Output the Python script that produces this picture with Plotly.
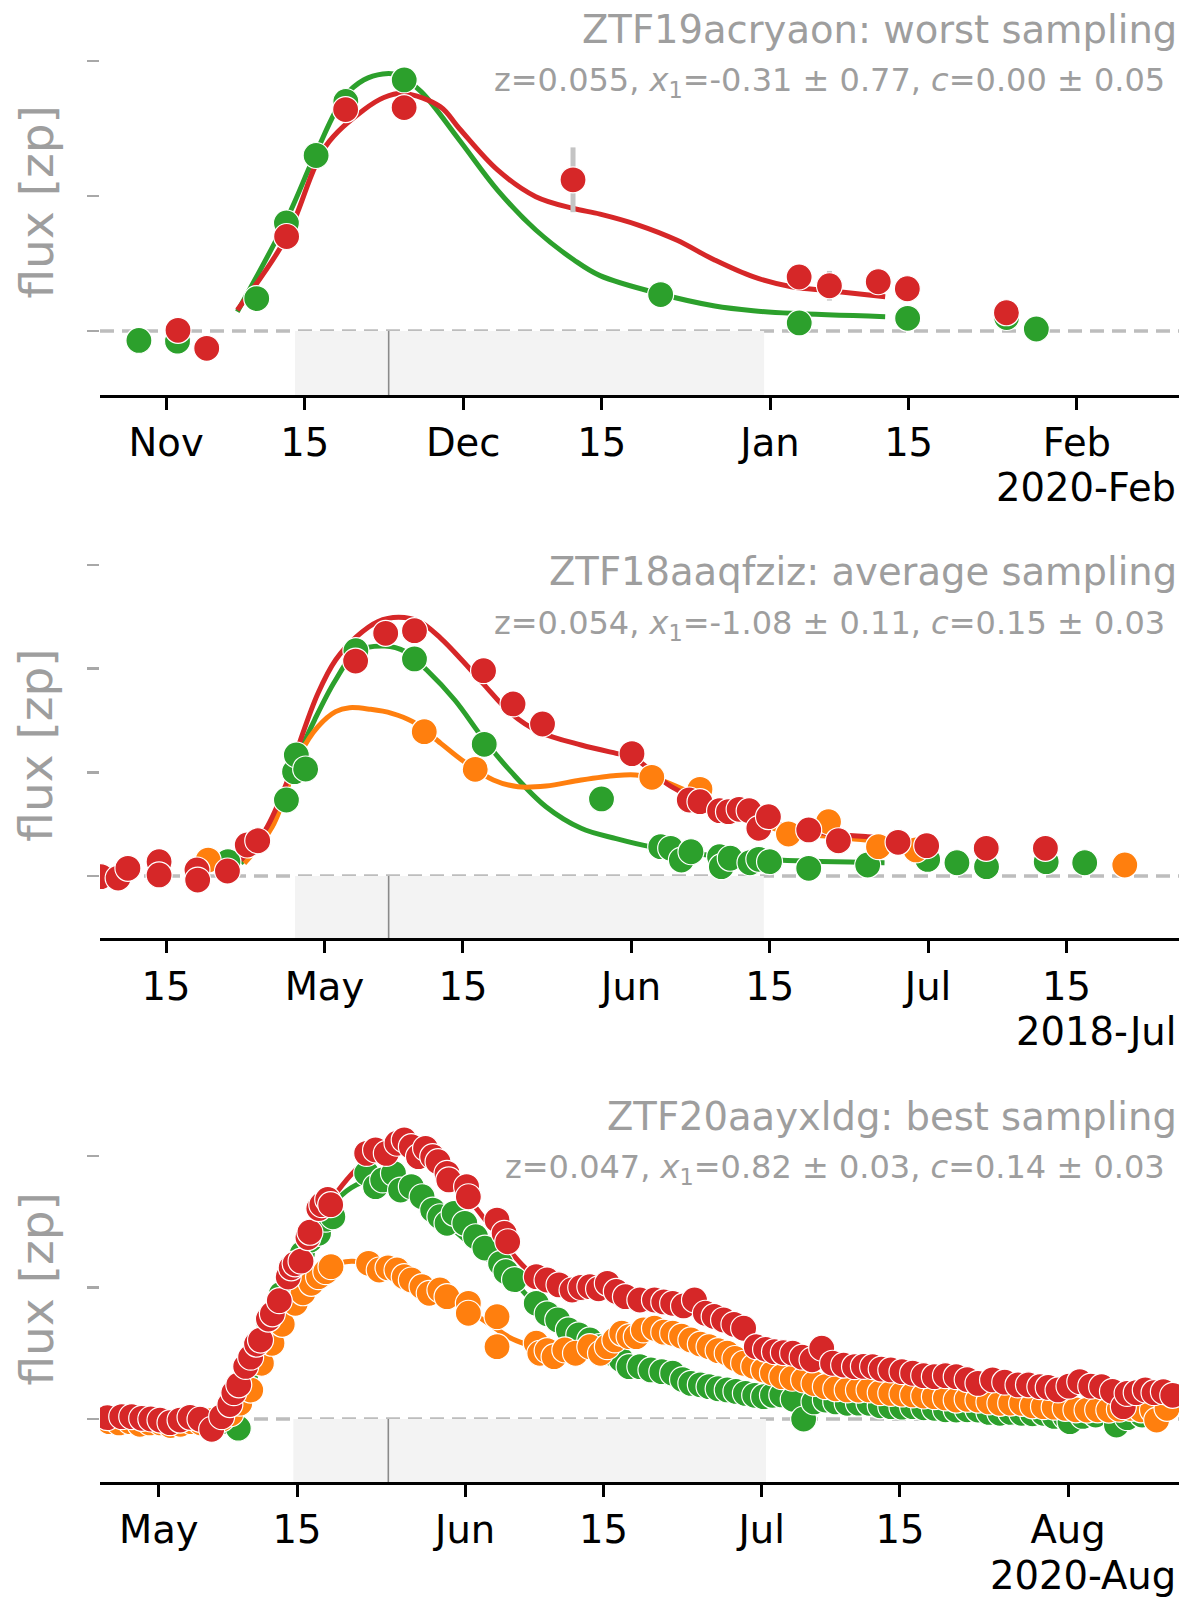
import numpy as np
import pandas as pd
import plotly.graph_objects as go

# ---------------- DATA ----------------
# Panel 1: ZTF19acryaon (days since 2019-11-01)
p1_t0 = "2019-11-01"
p1_title = "ZTF19acryaon: worst sampling"
p1_sub = "z=0.055, <i>x</i><sub>1</sub>=-0.31 ± 0.77, <i>c</i>=0.00 ± 0.05"
p1_offset = "2020-Feb"
p1_xrange = [-6.68, 102.31]
p1_shade = [13.02, 60.4]
p1_tmax = 22.48
p1_tickdates = ["2019-11-01", "2019-11-15", "2019-12-01", "2019-12-15", "2020-01-01", "2020-01-15", "2020-02-01"]
p1_ticklabels = ["Nov", "15", "Dec", "15", "Jan", "15", "Feb"]
p1_yticks = [0, 1, 2]

p1_g_days = [-2.75, 1.15, 9.15, 12.15, 15.15, 18.15, 24.05, 49.95, 63.95, 74.9, 84.9, 87.9]
p1_g_flux = [-0.07, -0.075, 0.24, 0.80, 1.30, 1.70, 1.86, 0.27, 0.06, 0.094, 0.10, 0.015]
p1_g_err = [0.03, 0.03, 0.05, 0.04, 0.04, 0.04, 0.04, 0.04, 0.03, 0.03, 0.03, 0.03]
p1_r_days = [1.2, 4.1, 12.17, 18.13, 24.04, 41.1, 63.94, 67.0, 71.93, 74.87, 84.88]
p1_r_flux = [0.005, -0.128, 0.70, 1.64, 1.655, 1.12, 0.40, 0.335, 0.365, 0.313, 0.135]
p1_r_err = [0.04, 0.04, 0.04, 0.05, 0.05, 0.24, 0.05, 0.11, 0.05, 0.05, 0.05]

p1_gmod_days = [7.19, 12.14, 15.11, 18.01, 19.95, 21.88, 23.43, 25.75, 29.61, 33.47, 37.34, 41.2, 43.83, 49.94, 55.42, 59.3, 63.16, 72.63]
p1_gmod_flux = [0.143, 0.822, 1.316, 1.736, 1.859, 1.904, 1.896, 1.773, 1.415, 1.044, 0.748, 0.526, 0.41, 0.274, 0.185, 0.15, 0.131, 0.106]
p1_rmod_days = [7.19, 12.17, 16.08, 19.95, 22.0, 24.0, 27.68, 29.61, 33.47, 37.34, 41.09, 43.83, 47.7, 51.56, 55.4, 59.28, 63.16, 67.02, 72.63]
p1_rmod_flux = [0.156, 0.696, 1.365, 1.637, 1.73, 1.76, 1.662, 1.5, 1.193, 0.995, 0.909, 0.866, 0.785, 0.674, 0.526, 0.402, 0.328, 0.299, 0.254]

# Panel 2: ZTF18aaqfziz (days since 2018-04-15)
p2_t0 = "2018-04-15"
p2_title = "ZTF18aaqfziz: average sampling"
p2_sub = "z=0.054, <i>x</i><sub>1</sub>=-1.08 ± 0.11, <i>c</i>=0.15 ± 0.03"
p2_offset = "2018-Jul"
p2_xrange = [-6.68, 102.36]
p2_shade = [13.03, 60.4]
p2_tmax = 22.49
p2_tickdates = ["2018-04-15", "2018-05-01", "2018-05-15", "2018-06-01", "2018-06-15", "2018-07-01", "2018-07-15"]
p2_ticklabels = ["15", "May", "15", "Jun", "15", "Jul", "15"]
p2_yticks = [0, 1, 2, 3]

p2_r_days = [-6.6, -4.85, -3.86, -0.71, -0.71, 3.12, 3.19, 6.2, 8.2, 9.26, 19.15, 22.19, 25.1, 32.08, 35.06, 38.04,
             47.08, 52.87, 53.95, 55.93, 56.83, 57.91, 58.92, 59.9, 60.87, 64.94, 67.94, 73.97, 76.86, 82.88, 88.86]
p2_r_flux = [-0.006, -0.02, 0.074, 0.138, 0.01, 0.058, -0.039, 0.048, 0.299, 0.34, 2.073, 2.34, 2.366, 1.98, 1.659, 1.466,
             1.18, 0.733, 0.717, 0.63, 0.62, 0.643, 0.63, 0.46, 0.572, 0.444, 0.34, 0.325, 0.292, 0.267, 0.267]
p2_g_days = [6.25, 12.16, 12.98, 13.16, 14.1, 19.18, 25.1, 32.15, 44.0, 49.98, 50.99, 52.07, 53.04, 55.93, 56.11, 57.01,
             59.0, 59.9, 60.98, 64.94, 70.9, 76.96, 79.92, 82.91, 88.94, 92.83]
p2_g_flux = [0.138, 0.733, 1.006, 1.167, 1.032, 2.173, 2.093, 1.27, 0.743, 0.283, 0.267, 0.154, 0.234, 0.186, 0.09, 0.171,
             0.128, 0.161, 0.138, 0.074, 0.106, 0.16, 0.128, 0.09, 0.138, 0.128]
p2_i_days = [4.25, 26.09, 31.24, 49.08, 53.95, 62.89, 66.94, 71.99, 75.78, 96.88]
p2_i_flux = [0.154, 1.392, 1.029, 0.952, 0.836, 0.405, 0.524, 0.283, 0.251, 0.106]

p2_rmod_days = [7.55, 10.03, 12.16, 13.58, 15.35, 17.13, 19.25, 21.38, 23.5, 25.63, 27.76, 29.88, 32.01, 34.85, 37.68,
                41.94, 45.48, 47.09, 51.06, 54.67, 60.09, 65.49, 70.9, 72.6]
p2_rmod_flux = [0.154, 0.444, 0.894, 1.311, 1.762, 2.083, 2.308, 2.452, 2.494, 2.452, 2.292, 2.083, 1.858, 1.569, 1.392,
                1.263, 1.183, 1.15, 0.861, 0.701, 0.54, 0.427, 0.379, 0.373]
p2_gmod_days = [7.55, 10.74, 12.87, 15.0, 17.13, 19.25, 22.09, 24.21, 26.34, 29.17, 32.15, 34.85, 38.39, 41.94, 45.48,
                48.9, 54.67, 61.9, 72.6]
p2_gmod_flux = [0.122, 0.54, 1.054, 1.504, 1.89, 2.163, 2.218, 2.163, 1.986, 1.697, 1.311, 1.006, 0.668, 0.46, 0.36,
                0.283, 0.203, 0.154, 0.128]
p2_imod_days = [7.91, 10.74, 13.58, 15.35, 17.13, 18.54, 20.67, 22.8, 24.92, 27.76, 29.88, 33.07, 35.56, 38.39, 41.94,
                45.48, 47.45, 49.08, 52.87, 58.28, 61.9, 67.3, 72.6]
p2_imod_flux = [0.122, 0.476, 1.183, 1.44, 1.585, 1.623, 1.607, 1.569, 1.488, 1.279, 1.119, 0.926, 0.861, 0.868, 0.926,
                0.97, 0.975, 0.952, 0.813, 0.588, 0.444, 0.379, 0.331]

# Panel 3: ZTF20aayxldg (days since 2020-05-01)
p3_t0 = "2020-05-01"
p3_title = "ZTF20aayxldg: best sampling"
p3_sub = "z=0.047, <i>x</i><sub>1</sub>=0.82 ± 0.03, <i>c</i>=0.14 ± 0.03"
p3_offset = "2020-Aug"
p3_xrange = [-5.94, 103.23]
p3_shade = [13.62, 61.44]
p3_tmax = 23.23
p3_tickdates = ["2020-05-01", "2020-05-15", "2020-06-01", "2020-06-15", "2020-07-01", "2020-07-15", "2020-08-01"]
p3_ticklabels = ["May", "15", "Jun", "15", "Jul", "15", "Aug"]
p3_yticks = [0, 1, 2]

p3_r_days = [-5.2, -3.74, -2.73, -1.72, -0.8, 0.13, 1.14, 2.16, 3.17, 4.18, 5.36, 6.37, 7.2, 7.6, 8.1, 8.8, 9.3, 9.9,
             10.3, 11.1, 11.5, 12.2, 13.1, 13.4, 13.8, 14.4, 15.1, 15.3, 16.2, 16.5, 17.1, 17.4,
             21.04, 21.94, 23.03, 24.11, 24.84, 25.56, 26.28, 27.0, 27.72, 28.26, 29.17, 29.35, 31.15, 31.33, 34.23,
             34.95, 35.31, 38.2, 39.29, 40.5, 41.82, 42.7, 43.62, 44.5, 45.39, 46.3, 47.22, 48.68, 50.16, 51.1, 52.0,
             53.1, 54.21, 55.31, 56.2, 57.15, 58.2, 59.18, 60.46, 61.4, 62.3, 63.2, 64.14, 65.1, 66.1, 67.08, 68.18,
             69.3, 70.4, 71.3, 72.23, 73.1, 74.07, 75.2, 76.28, 77.4, 78.48, 79.6, 80.69, 81.8, 82.89, 84.37, 85.6,
             86.94, 88.0, 89.15, 90.0, 90.99, 92.1, 93.19, 94.3, 95.4, 96.5, 97.6, 97.98, 98.9, 99.82, 100.7, 101.65,
             102.6]
p3_r_flux = [0.01, 0.018, 0.018, 0.005, 0.0, -0.008, -0.028, -0.008, 0.013, -0.002, -0.078, 0.018, 0.11, 0.2, 0.26,
             0.40, 0.47, 0.57, 0.6, 0.76, 0.8, 0.9, 1.08, 1.15, 1.18, 1.2, 1.38, 1.42, 1.6, 1.63, 1.67, 1.63,
             2.02, 2.046, 2.02, 2.097, 2.122, 2.071, 1.995, 2.058, 1.995, 1.957, 1.868, 1.818, 1.767, 1.69, 1.513,
             1.412, 1.348, 1.082, 1.057, 1.02, 0.981, 1.0, 1.006, 0.99, 1.032, 0.97, 0.93, 0.905, 0.905, 0.89, 0.88,
             0.86, 0.905, 0.804, 0.78, 0.753, 0.72, 0.69, 0.55, 0.53, 0.512, 0.505, 0.5, 0.47, 0.45, 0.538, 0.424,
             0.41, 0.398, 0.40, 0.398, 0.38, 0.373, 0.36, 0.348, 0.33, 0.322, 0.33, 0.322, 0.30, 0.271, 0.297, 0.28,
             0.259, 0.26, 0.246, 0.24, 0.221, 0.25, 0.284, 0.25, 0.246, 0.21, 0.094, 0.195, 0.2, 0.221, 0.2, 0.208,
             0.18]
p3_g_days = [-4.9, -3.0, -1.0, 0.1, 2.2, 3.2, 5.3, 6.4, 8.05, 8.8, 9.9, 11.1, 12.4, 13.3, 14.54, 15.3, 16.17, 16.9,
             17.62, 21.04, 21.94, 22.66, 23.75, 24.47, 25.56, 26.65, 27.72, 28.45, 29.17, 29.89, 30.97, 32.06, 33.0,
             34.59, 35.13, 36.0, 38.2, 39.3, 40.37, 41.45, 42.5, 43.62, 44.6, 45.78, 46.8, 47.59, 48.68, 49.8, 50.9,
             52.0, 53.0, 53.84, 54.8, 55.68, 56.6, 57.52, 58.4, 59.36, 60.3, 61.2, 62.1, 63.04, 64.2, 65.25, 66.3,
             67.45, 68.5, 69.66, 70.8, 71.87, 73.0, 74.07, 75.2, 76.28, 77.4, 78.48, 79.6, 80.69, 81.8, 82.89, 84.0,
             85.11, 86.2, 87.31, 88.4, 89.52, 90.6, 91.72, 92.2, 93.5, 94.8, 96.9, 98.0, 99.5, 101.0]
p3_g_flux = [-0.02, -0.01, -0.03, -0.02, -0.01, 0.0, -0.03, -0.02, -0.07, 0.30, 0.52, 0.74, 0.95, 1.08, 1.26, 1.36,
             1.412, 1.52, 1.538, 1.868, 1.767, 1.818, 1.868, 1.741, 1.767, 1.69, 1.589, 1.538, 1.488, 1.564, 1.488,
             1.386, 1.30, 1.184, 1.12, 1.06, 0.88, 0.80, 0.753, 0.677, 0.64, 0.601, 0.55, 0.5, 0.45, 0.398, 0.398,
             0.373, 0.36, 0.348, 0.30, 0.271, 0.26, 0.246, 0.23, 0.221, 0.21, 0.195, 0.18, 0.17, 0.18, 0.183, 0.15,
             0.0, 0.13, 0.144, 0.13, 0.119, 0.12, 0.119, 0.10, 0.094, 0.09, 0.094, 0.085, 0.081, 0.07, 0.068, 0.07,
             0.068, 0.05, 0.043, 0.05, 0.043, 0.04, 0.043, 0.02, 0.017, -0.02, 0.02, 0.03, -0.046, 0.01, 0.03, 0.02]
p3_i_days = [-5.0, -4.0, -2.9, -1.9, -0.9, 0.2, 1.2, 2.2, 3.3, 4.3, 5.4, 6.4, 7.3, 8.2, 9.31, 10.39, 11.46, 12.5,
             13.82, 14.6, 15.44, 16.17, 16.9, 17.43, 21.23, 22.31, 23.2, 24.11, 24.84, 25.56, 26.64, 27.37, 28.45,
             29.17, 31.33, 31.33, 34.23, 34.23, 38.2, 38.56, 39.3, 40.0, 41.09, 42.17, 43.62, 44.7, 45.39, 46.15,
             46.85, 47.59, 48.32, 49.04, 50.16, 51.1, 52.0, 52.9, 53.84, 54.8, 55.68, 56.6, 57.52, 58.3, 59.18, 60.2,
             61.2, 62.1, 63.04, 64.1, 65.25, 66.3, 67.45, 68.5, 69.66, 70.8, 71.87, 73.0, 74.07, 75.2, 76.28, 77.4,
             78.48, 79.6, 80.69, 81.8, 82.89, 84.0, 85.11, 86.2, 87.31, 88.4, 89.52, 90.6, 91.72, 92.8, 93.93, 95.0,
             96.13, 97.2, 98.34, 99.4, 100.55, 100.97, 102.02]
p3_i_flux = [-0.02, -0.03, -0.02, -0.04, -0.03, -0.03, -0.05, -0.04, -0.02, -0.03, -0.01, 0.0, 0.04, 0.12, 0.22,
             0.424, 0.576, 0.72, 0.88, 0.96, 1.032, 1.082, 1.12, 1.158, 1.184, 1.133, 1.15, 1.133, 1.082, 1.057,
             1.006, 0.956, 0.981, 0.93, 0.88, 0.804, 0.778, 0.55, 0.576, 0.5, 0.52, 0.474, 0.525, 0.5, 0.55, 0.5,
             0.55, 0.601, 0.652, 0.626, 0.626, 0.677, 0.69, 0.66, 0.652, 0.63, 0.601, 0.57, 0.55, 0.52, 0.5, 0.46,
             0.424, 0.40, 0.373, 0.35, 0.322, 0.31, 0.297, 0.27, 0.246, 0.23, 0.221, 0.22, 0.221, 0.20, 0.195, 0.19,
             0.183, 0.175, 0.17, 0.16, 0.144, 0.15, 0.144, 0.13, 0.119, 0.12, 0.119, 0.10, 0.094, 0.09, 0.081, 0.07,
             0.068, 0.07, 0.068, 0.075, 0.081, 0.07, 0.068, -0.008, 0.081]

p3_rmod_days = [7.9, 9.3, 11.5, 13.1, 15.3, 17.4, 19.5, 21.5, 23.5, 25.5, 27.5, 29.5, 31.5, 33.5, 35.5, 37.5, 39.5,
                42.0, 45.0, 48.0, 51.0, 54.0, 57.0, 60.0, 63.0, 66.0, 70.0, 73.4]
p3_rmod_flux = [0.15, 0.45, 0.76, 1.1, 1.42, 1.66, 1.86, 2.0, 2.07, 2.06, 1.98, 1.83, 1.66, 1.47, 1.28, 1.12, 1.03,
                0.99, 0.97, 0.93, 0.89, 0.86, 0.76, 0.6, 0.5, 0.45, 0.41, 0.38]
p3_gmod_days = [7.9, 9.3, 11.5, 13.1, 15.3, 17.4, 19.5, 21.5, 23.5, 25.5, 27.5, 29.5, 31.5, 33.5, 35.5, 37.5, 39.5,
                42.0, 45.0, 48.0, 51.0, 54.0, 57.0, 60.0, 65.0, 70.0, 73.4]
p3_gmod_flux = [0.15, 0.45, 0.8, 1.12, 1.42, 1.62, 1.76, 1.82, 1.8, 1.73, 1.6, 1.46, 1.33, 1.2, 1.08, 0.92, 0.78,
                0.64, 0.47, 0.4, 0.36, 0.28, 0.22, 0.18, 0.13, 0.11, 0.1]
p3_imod_days = [7.9, 9.3, 11.5, 13.1, 15.3, 17.4, 19.5, 21.5, 23.5, 25.5, 27.5, 29.5, 31.5, 33.5, 35.5, 37.5, 40.0,
                42.0, 44.0, 46.0, 48.0, 50.0, 52.0, 54.0, 56.0, 58.0, 60.0, 63.0, 66.0, 70.0, 73.4]
p3_imod_flux = [0.1, 0.25, 0.58, 0.82, 1.03, 1.16, 1.2, 1.18, 1.14, 1.06, 0.97, 0.92, 0.82, 0.72, 0.62, 0.56, 0.5,
                0.53, 0.56, 0.62, 0.66, 0.68, 0.65, 0.6, 0.54, 0.47, 0.4, 0.32, 0.27, 0.22, 0.2]

# ---------------- STYLE / LAYOUT ----------------
GREEN, ORANGE, RED = "#2ca02c", "#ff7f0e", "#d62728"
GREY_TXT = "#9e9e9e"
FONT = "DejaVu Sans"
W, H = 1200, 1606
ML, MR, MT, MB = 100, 21, 10, 124
PH = H - MT - MB  # plot area height in px
PW = W - ML - MR

# pixel geometry of each panel: (top px, bottom px, zero px, px per unit)
geom = [(10, 395, 331, 135.0), (553, 938.4, 876, 103.7), (1097, 1482, 1419, 131.5)]


def py2paper(py):
    return (H - MB - py) / PH


def to_dt(t0, days):
    return pd.Timestamp(t0) + pd.to_timedelta(np.asarray(days, dtype=float), unit="D")


panels = [
    dict(t0=p1_t0, title=p1_title, sub=p1_sub, offset=p1_offset, xr=p1_xrange, shade=p1_shade, tmax=p1_tmax,
         tickdates=p1_tickdates, ticklabels=p1_ticklabels, yticks=p1_yticks,
         models=[(p1_gmod_days, p1_gmod_flux, GREEN), (p1_rmod_days, p1_rmod_flux, RED)],
         obs=[(p1_g_days, p1_g_flux, p1_g_err, GREEN), (p1_r_days, p1_r_flux, p1_r_err, RED)]),
    dict(t0=p2_t0, title=p2_title, sub=p2_sub, offset=p2_offset, xr=p2_xrange, shade=p2_shade, tmax=p2_tmax,
         tickdates=p2_tickdates, ticklabels=p2_ticklabels, yticks=p2_yticks,
         models=[(p2_gmod_days, p2_gmod_flux, GREEN), (p2_imod_days, p2_imod_flux, ORANGE),
                 (p2_rmod_days, p2_rmod_flux, RED)],
         obs=[(p2_g_days, p2_g_flux, None, GREEN), (p2_i_days, p2_i_flux, None, ORANGE),
              (p2_r_days, p2_r_flux, None, RED)]),
    dict(t0=p3_t0, title=p3_title, sub=p3_sub, offset=p3_offset, xr=p3_xrange, shade=p3_shade, tmax=p3_tmax,
         tickdates=p3_tickdates, ticklabels=p3_ticklabels, yticks=p3_yticks,
         models=[(p3_gmod_days, p3_gmod_flux, GREEN), (p3_imod_days, p3_imod_flux, ORANGE),
                 (p3_rmod_days, p3_rmod_flux, RED)],
         obs=[(p3_g_days, p3_g_flux, None, GREEN), (p3_i_days, p3_i_flux, None, ORANGE),
              (p3_r_days, p3_r_flux, None, RED)]),
]

fig = go.Figure()
layout = dict(width=W, height=H, margin=dict(l=ML, r=MR, t=MT, b=MB, pad=0), paper_bgcolor="white",
              plot_bgcolor="white", showlegend=False, font=dict(family=FONT))
shapes, annotations = [], []

for i, p in enumerate(panels):
    k = "" if i == 0 else str(i + 1)
    xa, ya = "x" + k, "y" + k
    top, bot, zero, unit = geom[i]
    ylo, yhi = (zero - bot) / unit, (zero - top) / unit

    for d, f, c in p["models"]:
        fig.add_trace(go.Scatter(x=to_dt(p["t0"], d), y=f, mode="lines",
                                 line=dict(color=c, width=5, shape="spline", smoothing=1.0),
                                 xaxis=xa, yaxis=ya, hoverinfo="skip"))
    for d, f, e, c in p["obs"]:
        kw = {}
        if e is not None:
            kw["error_y"] = dict(type="data", array=e, visible=True, color="#c4c4c4", thickness=5, width=0)
        fig.add_trace(go.Scatter(x=to_dt(p["t0"], d), y=f, mode="markers",
                                 marker=dict(color=c, size=26, line=dict(color="white", width=1.2)),
                                 xaxis=xa, yaxis=ya, **kw))

    xr = [str(t) for t in to_dt(p["t0"], p["xr"])]
    sh = [str(t) for t in to_dt(p["t0"], p["shade"])]
    tm = str(to_dt(p["t0"], [p["tmax"]])[0])

    dom_lo, dom_hi = py2paper(bot), py2paper(top)
    layout["xaxis" + k] = dict(anchor=ya, domain=[0, 1], type="date", range=xr,
                               tickmode="array", tickvals=p["tickdates"], ticktext=p["ticklabels"],
                               showline=True, linecolor="black", linewidth=3, mirror=False,
                               ticks="outside", ticklen=12, tickwidth=3, tickcolor="black",
                               tickfont=dict(size=38.5, color="black", family=FONT),
                               showgrid=False, zeroline=False, fixedrange=True)
    layout["yaxis" + k] = dict(anchor=xa, domain=[dom_lo, dom_hi], range=[ylo, yhi],
                               tickmode="array", tickvals=p["yticks"], showticklabels=False,
                               ticks="outside", ticklen=12, tickwidth=2.5, tickcolor="#a8a8a8",
                               showline=False, showgrid=False, zeroline=False, fixedrange=True)

    shapes.append(dict(type="rect", xref=xa, yref=ya, x0=sh[0], x1=sh[1], y0=ylo, y1=0,
                       fillcolor="#f3f3f3", line=dict(width=0), layer="below"))
    shapes.append(dict(type="line", xref=xa, yref=ya, x0=tm, x1=tm, y0=ylo, y1=0,
                       line=dict(color="#8a8a8a", width=1.6), layer="below"))
    shapes.append(dict(type="line", xref=xa + " domain", yref=ya, x0=0, x1=1, y0=0, y1=0,
                       line=dict(color="#bdbdbd", width=3.5, dash="14px,8px"), layer="below"))

    annotations.append(dict(xref="paper", yref="paper", x=1.0, y=py2paper(top + 19), xanchor="right",
                            yanchor="middle", text=p["title"], showarrow=False,
                            font=dict(size=38.5, color=GREY_TXT, family=FONT)))
    annotations.append(dict(xref="paper", yref="paper", x=(1167 - ML) / PW, y=py2paper(top + 72),
                            xanchor="right", yanchor="middle", text=p["sub"], showarrow=False,
                            font=dict(size=32, color=GREY_TXT, family=FONT)))
    annotations.append(dict(xref="paper", yref="paper", x=(1178 - ML) / PW, y=py2paper(bot + 93),
                            xanchor="right", yanchor="middle", text=p["offset"], showarrow=False,
                            font=dict(size=38.5, color="black", family=FONT)))
    annotations.append(dict(xref="paper", yref="paper", x=(36 - ML) / PW, y=py2paper((top + bot) / 2),
                            xanchor="center", yanchor="middle", text="flux [zp]", textangle=-90,
                            showarrow=False, font=dict(size=47, color=GREY_TXT, family=FONT)))

layout["shapes"] = shapes
layout["annotations"] = annotations
fig.update_layout(**layout)
fig.write_html("out.html", config={"displayModeBar": False, "staticPlot": True},
               post_script="document.body.style.margin='0px';document.body.style.overflow='hidden';")
